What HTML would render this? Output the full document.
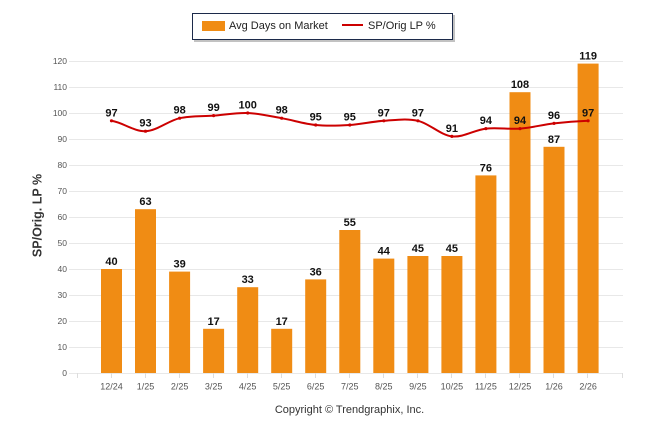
<!DOCTYPE html>
<html><head><meta charset="utf-8"><style>
html,body{margin:0;padding:0;background:#fff;}
svg{display:block;font-family:"Liberation Sans",Arial,sans-serif;}
</style></head><body>
<svg width="646" height="434" viewBox="0 0 646 434" xmlns="http://www.w3.org/2000/svg">
<rect width="646" height="434" fill="#fff"/>
<!-- legend -->
<rect x="194" y="15" width="261" height="27" fill="#9a9a9a" opacity="0.6"/>
<rect x="192.5" y="13.5" width="260" height="26" fill="#fff" stroke="#1c2a4a" stroke-width="1"/>
<rect x="202" y="21" width="23" height="10" fill="#F08C14"/>
<text x="229" y="29" font-size="11" fill="#222">Avg Days on Market</text>
<line x1="342" y1="25" x2="363" y2="25" stroke="#CC0000" stroke-width="2"/>
<text x="368" y="29" font-size="11" fill="#222">SP/Orig LP %</text>
<!-- gridlines -->
<g stroke="#e8e8e8" stroke-width="1">
<line x1="69" y1="61.5" x2="623" y2="61.5"/>
<line x1="69" y1="87.5" x2="623" y2="87.5"/>
<line x1="69" y1="113.5" x2="623" y2="113.5"/>
<line x1="69" y1="139.5" x2="623" y2="139.5"/>
<line x1="69" y1="165.5" x2="623" y2="165.5"/>
<line x1="69" y1="191.5" x2="623" y2="191.5"/>
<line x1="69" y1="217.5" x2="623" y2="217.5"/>
<line x1="69" y1="243.5" x2="623" y2="243.5"/>
<line x1="69" y1="269.5" x2="623" y2="269.5"/>
<line x1="69" y1="295.5" x2="623" y2="295.5"/>
<line x1="69" y1="321.5" x2="623" y2="321.5"/>
<line x1="69" y1="347.5" x2="623" y2="347.5"/>
<line x1="69" y1="373.5" x2="623" y2="373.5"/>
</g>
<!-- x ticks -->
<g stroke="#dddddd" stroke-width="1">
<line x1="77.5" y1="373" x2="77.5" y2="378"/>
<line x1="111.5" y1="373" x2="111.5" y2="378"/>
<line x1="145.5" y1="373" x2="145.5" y2="378"/>
<line x1="179.5" y1="373" x2="179.5" y2="378"/>
<line x1="213.5" y1="373" x2="213.5" y2="378"/>
<line x1="247.5" y1="373" x2="247.5" y2="378"/>
<line x1="281.5" y1="373" x2="281.5" y2="378"/>
<line x1="315.5" y1="373" x2="315.5" y2="378"/>
<line x1="349.5" y1="373" x2="349.5" y2="378"/>
<line x1="383.5" y1="373" x2="383.5" y2="378"/>
<line x1="417.5" y1="373" x2="417.5" y2="378"/>
<line x1="451.5" y1="373" x2="451.5" y2="378"/>
<line x1="485.5" y1="373" x2="485.5" y2="378"/>
<line x1="519.5" y1="373" x2="519.5" y2="378"/>
<line x1="553.5" y1="373" x2="553.5" y2="378"/>
<line x1="587.5" y1="373" x2="587.5" y2="378"/>
<line x1="622.5" y1="373" x2="622.5" y2="378"/>
</g>
<!-- y labels -->
<g font-size="8.5" fill="#555" text-anchor="end">
<text x="67" y="64">120</text>
<text x="67" y="90">110</text>
<text x="67" y="116">100</text>
<text x="67" y="142">90</text>
<text x="67" y="168">80</text>
<text x="67" y="194">70</text>
<text x="67" y="220">60</text>
<text x="67" y="246">50</text>
<text x="67" y="272">40</text>
<text x="67" y="298">30</text>
<text x="67" y="324">20</text>
<text x="67" y="350">10</text>
<text x="67" y="376">0</text>
</g>
<text transform="translate(41.5,215.5) rotate(-90)" text-anchor="middle" font-size="12.5" font-weight="bold" fill="#333">SP/Orig. LP %</text>
<!-- bars -->
<g fill="#F08C14">
<rect x="101" y="269" width="21" height="104"/>
<rect x="135" y="209.2" width="21" height="163.8"/>
<rect x="169.1" y="271.6" width="21" height="101.4"/>
<rect x="203.1" y="328.8" width="21" height="44.2"/>
<rect x="237.2" y="287.2" width="21" height="85.8"/>
<rect x="271.2" y="328.8" width="21" height="44.2"/>
<rect x="305.2" y="279.4" width="21" height="93.6"/>
<rect x="339.3" y="230" width="21" height="143"/>
<rect x="373.3" y="258.6" width="21" height="114.4"/>
<rect x="407.4" y="256" width="21" height="117"/>
<rect x="441.4" y="256" width="21" height="117"/>
<rect x="475.4" y="175.4" width="21" height="197.6"/>
<rect x="509.5" y="92.2" width="21" height="280.8"/>
<rect x="543.5" y="146.8" width="21" height="226.2"/>
<rect x="577.6" y="63.6" width="21" height="309.4"/>
</g>
<!-- bar labels -->
<g font-size="11" font-weight="bold" fill="#111" text-anchor="middle">
<text x="111.5" y="265">40</text>
<text x="145.5" y="205.2">63</text>
<text x="179.6" y="267.6">39</text>
<text x="213.6" y="324.8">17</text>
<text x="247.7" y="283.2">33</text>
<text x="281.7" y="324.8">17</text>
<text x="315.7" y="275.4">36</text>
<text x="349.8" y="226">55</text>
<text x="383.8" y="254.6">44</text>
<text x="417.9" y="252">45</text>
<text x="451.9" y="252">45</text>
<text x="485.9" y="171.4">76</text>
<text x="520" y="88.2">108</text>
<text x="554" y="142.8">87</text>
<text x="588.1" y="59.6">119</text>
</g>
<!-- line -->
<path d="M111.5 120.8 C122.8 122.53,134.2 131.63,145.5 131.2 C156.8 130.77,168.3 120.8,179.6 118.2 C190.9 115.6,202.3 116.47,213.6 115.6 C224.9 114.73,236.4 112.57,247.7 113 C259 113.43,270.4 116.2,281.7 118.2 C293 120.2,304.4 123.87,315.7 125 C327 126.13,338.5 125.7,349.8 125 C361.1 124.3,372.5 121.5,383.8 120.8 C395.1 120.1,406.6 118.2,417.9 120.8 C429.2 123.4,440.6 135.1,451.9 136.4 C463.2 137.7,474.6 129.9,485.9 128.6 C497.2 127.3,508.7 129.47,520 128.6 C531.3 127.73,542.7 124.7,554 123.4 C565.3 122.1,576.8 121.23,588.1 120.8" fill="none" stroke="#CC0000" stroke-width="2"/>
<g fill="#CC0000">
<circle cx="111.5" cy="120.8" r="1.6"/><circle cx="145.5" cy="131.2" r="1.6"/><circle cx="179.6" cy="118.2" r="1.6"/><circle cx="213.6" cy="115.6" r="1.6"/><circle cx="247.7" cy="113" r="1.6"/><circle cx="281.7" cy="118.2" r="1.6"/><circle cx="315.7" cy="125" r="1.6"/><circle cx="349.8" cy="125" r="1.6"/><circle cx="383.8" cy="120.8" r="1.6"/><circle cx="417.9" cy="120.8" r="1.6"/><circle cx="451.9" cy="136.4" r="1.6"/><circle cx="485.9" cy="128.6" r="1.6"/><circle cx="520" cy="128.6" r="1.6"/><circle cx="554" cy="123.4" r="1.6"/><circle cx="588.1" cy="120.8" r="1.6"/>
</g>
<!-- line labels -->
<g font-size="11" font-weight="bold" fill="#111" text-anchor="middle">
<text x="111.5" y="116.3">97</text>
<text x="145.5" y="126.7">93</text>
<text x="179.6" y="113.7">98</text>
<text x="213.6" y="111.1">99</text>
<text x="247.7" y="108.5">100</text>
<text x="281.7" y="113.7">98</text>
<text x="315.7" y="120.5">95</text>
<text x="349.8" y="120.5">95</text>
<text x="383.8" y="116.3">97</text>
<text x="417.9" y="116.3">97</text>
<text x="451.9" y="131.9">91</text>
<text x="485.9" y="124.1">94</text>
<text x="520" y="124.1">94</text>
<text x="554" y="118.9">96</text>
<text x="588.1" y="116.3">97</text>
</g>
<!-- x labels -->
<g font-size="9" fill="#555" text-anchor="middle">
<text x="111.5" y="389.5">12/24</text>
<text x="145.5" y="389.5">1/25</text>
<text x="179.6" y="389.5">2/25</text>
<text x="213.6" y="389.5">3/25</text>
<text x="247.7" y="389.5">4/25</text>
<text x="281.7" y="389.5">5/25</text>
<text x="315.7" y="389.5">6/25</text>
<text x="349.8" y="389.5">7/25</text>
<text x="383.8" y="389.5">8/25</text>
<text x="417.9" y="389.5">9/25</text>
<text x="451.9" y="389.5">10/25</text>
<text x="485.9" y="389.5">11/25</text>
<text x="520" y="389.5">12/25</text>
<text x="554" y="389.5">1/26</text>
<text x="588.1" y="389.5">2/26</text>
</g>
<text x="349.5" y="413" font-size="11" fill="#333" text-anchor="middle">Copyright © Trendgraphix, Inc.</text>
</svg>
</body></html>
